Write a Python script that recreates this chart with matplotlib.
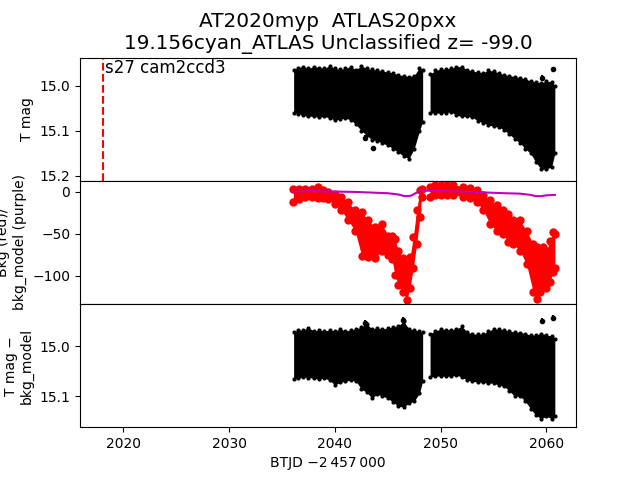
import numpy as np
import matplotlib
matplotlib.use('Agg')
import matplotlib.pyplot as plt

# top panel: T mag band (bright edge, faint edge), two data chunks
t1 = [2036.1, 2036.5, 2037.0, 2037.5, 2038.0, 2038.5, 2039.0, 2039.5, 2040.0, 2040.5,
      2041.0, 2041.5, 2042.0, 2042.5, 2043.0, 2043.5, 2044.0, 2044.5, 2045.0, 2045.5,
      2046.0, 2046.5, 2047.0, 2047.5, 2048.0, 2048.3]
t2 = [2049.0, 2049.5, 2050.0, 2050.5, 2051.0, 2051.5, 2052.0, 2052.5, 2053.0, 2053.5,
      2054.0, 2054.5, 2055.0, 2055.5, 2056.0, 2056.5, 2057.0, 2057.5, 2058.0, 2058.5,
      2059.0, 2059.5, 2060.0, 2060.5, 2060.8]

mag_hi1 = [14.965, 14.960, 14.958, 14.962, 14.958, 14.960, 14.962, 14.956, 14.962, 14.964,
           14.962, 14.958, 14.965, 14.956, 14.962, 14.964, 14.966, 14.968, 14.970, 14.972,
           14.976, 14.978, 14.980, 14.978, 14.960, 14.965]
mag_lo1 = [15.060, 15.062, 15.066, 15.068, 15.068, 15.070, 15.068, 15.072, 15.076, 15.074,
           15.072, 15.076, 15.086, 15.100, 15.110, 15.120, 15.122, 15.128, 15.132, 15.140,
           15.148, 15.156, 15.162, 15.140, 15.100, 15.080]
mag_hi2 = [14.975, 14.966, 14.964, 14.963, 14.962, 14.958, 14.958, 14.965, 14.968, 14.970,
           14.972, 14.966, 14.968, 14.972, 14.976, 14.978, 14.980, 14.983, 14.985, 14.990,
           14.992, 14.994, 14.990, 14.992, 15.000]
mag_lo2 = [15.060, 15.061, 15.061, 15.060, 15.058, 15.066, 15.068, 15.068, 15.070, 15.078,
           15.082, 15.087, 15.090, 15.092, 15.098, 15.108, 15.118, 15.127, 15.140, 15.150,
           15.170, 15.185, 15.185, 15.180, 15.150]
out_t = [2042.85, 2043.63, 2059.55, 2060.62]
out_mag = [15.116, 15.139, 14.983, 14.964]

# middle panel: background (red band) and bkg model (purple)
tb1 = [2036.07, 2036.6, 2037.17, 2037.8, 2038.43, 2038.9, 2039.38, 2040.0, 2040.6, 2041.27,
       2041.9, 2042.53, 2043.16, 2043.79, 2044.42, 2045.05, 2045.4, 2045.68, 2046.0, 2046.47,
       2046.78, 2047.1, 2047.41, 2047.73, 2048.04, 2048.2]
bkg_hi1 = [4, 3, 3, 4, 6, 2, 0, -2, -6, -12, -22, -24, -34, -42, -38, -52, -52, -56, -70, -79,
           -86, -78, -54, -22, 2, 4]
bkg_lo1 = [-12, -8, -6, -6, -7, -7, -8, -14, -22, -34, -46, -76, -77, -79, -70, -75, -80, -99,
           -111, -119, -129, -115, -91, -62, -30, -6]
tb2 = [2048.99, 2049.5, 2050.0, 2050.6, 2051.19, 2052.14, 2052.77, 2053.4, 2054.03, 2054.66,
       2055.29, 2055.92, 2056.39, 2056.87, 2057.49, 2058.12, 2058.75, 2059.07, 2059.38, 2059.7,
       2060.01, 2060.33, 2060.64, 2060.8]
bkg_hi2 = [6, 8, 8.5, 8.5, 8.5, 6.5, 4.5, 2.5, -3.6, -9.6, -15.7, -21.8, -26, -34, -34, -46,
           -62, -66, -70, -66, -70, -58, -48, -50]
bkg_lo2 = [-6, -4, -3.6, -3.6, -3.6, -5.6, -7.7, -11.7, -21.8, -38, -46, -50, -60, -62, -70,
           -86, -119, -127, -119, -111, -115, -107, -95, -91]
tm = [2036.07, 2038.0, 2040.0, 2042.0, 2044.0, 2045.0, 2046.0, 2046.6, 2047.2, 2047.7, 2048.1,
      2049.0, 2050.0, 2052.0, 2054.0, 2056.0, 2057.5, 2058.5, 2059.0, 2059.5, 2060.0, 2060.8]
bkg_model = [0.5, 1, 0.5, 0, -1, -1.5, -3, -5, -4.5, -1, 1.5, 1.5, 1, 0.5, -0.5, -1.5, -2,
             -3.5, -5, -5, -4, -3.5]

# bottom panel: T mag - bkg_model
sub_hi1 = [14.972, 14.968, 14.968, 14.963, 14.970, 14.968, 14.970, 14.968, 14.970, 14.966,
           14.970, 14.968, 14.966, 14.962, 14.955, 14.966, 14.964, 14.966, 14.964, 14.962,
           14.960, 14.950, 14.966, 14.968, 14.970, 14.972]
sub_lo1 = [15.066, 15.064, 15.062, 15.063, 15.064, 15.066, 15.064, 15.068, 15.078, 15.072,
           15.070, 15.068, 15.070, 15.086, 15.092, 15.104, 15.096, 15.100, 15.104, 15.112,
           15.120, 15.122, 15.114, 15.110, 15.094, 15.070]
sub_hi2 = [14.975, 14.970, 14.966, 14.967, 14.968, 14.966, 14.960, 14.972, 14.976, 14.976,
           14.976, 14.970, 14.966, 14.966, 14.968, 14.970, 14.972, 14.973, 14.975, 14.978,
           14.978, 14.975, 14.978, 14.980, 14.985]
sub_lo2 = [15.062, 15.060, 15.060, 15.060, 15.060, 15.058, 15.062, 15.068, 15.070, 15.072,
           15.072, 15.074, 15.074, 15.078, 15.080, 15.090, 15.100, 15.100, 15.110, 15.125,
           15.138, 15.145, 15.140, 15.145, 15.140]
sout_t = [2042.84, 2046.47, 2059.55, 2060.59]
sout_mag = [14.953, 14.947, 14.950, 14.943]

sector_start = 2018.1


def band(ax, t, hi, lo, color, ms):
    ax.fill_between(t, hi, lo, color=color, lw=0)
    ax.plot(t, hi, 'o', color=color, ms=ms, mew=0)
    ax.plot(t, lo, 'o', color=color, ms=ms, mew=0)


fig, axs = plt.subplots(3, 1, sharex=True, figsize=(6.4, 4.8), dpi=100)
fig.subplots_adjust(hspace=0)
ax1, ax2, ax3 = axs

band(ax1, t1, mag_hi1, mag_lo1, 'k', 3)
band(ax1, t2, mag_hi2, mag_lo2, 'k', 3)
ax1.errorbar(out_t, out_mag, yerr=0.006, fmt='o', color='k', ms=3)
ax1.axvline(sector_start, color='r', ls='--')
ax1.text(sector_start + 0.2, 14.940, 's27 cam2ccd3', fontsize=12, va='top')
ax1.set_ylim(15.211, 14.938)
ax1.set_yticks([15.0, 15.1, 15.2])
ax1.set_ylabel('T mag')
ax1.set_title('AT2020myp  ATLAS20pxx\n19.156cyan_ATLAS Unclassified z= -99.0', fontsize='x-large')

band(ax2, tb1, bkg_hi1, bkg_lo1, 'r', 6)
band(ax2, tb2, bkg_hi2, bkg_lo2, 'r', 6)
ax2.plot(tm, bkg_model, color='m', lw=1.5)
ax2.set_ylim(-133.5, 13.3)
ax2.set_yticks([0, -50, -100])
ax2.set_ylabel('Bkg (red)/\nbkg_model (purple)')

band(ax3, t1, sub_hi1, sub_lo1, 'k', 3)
band(ax3, t2, sub_hi2, sub_lo2, 'k', 3)
ax3.errorbar(sout_t, sout_mag, yerr=0.006, fmt='o', color='k', ms=3)
ax3.set_ylim(15.162, 14.916)
ax3.set_yticks([15.0, 15.1])
ax3.set_ylabel('T mag \u2212\nbkg_model')

for ax in (ax1, ax2):
    ax.tick_params(bottom=False)
ax3.set_xlim(2015.9, 2062.8)
ax3.set_xticks([2020, 2030, 2040, 2050, 2060])
ax3.set_xlabel('BTJD \u22122\u2009457\u2009000')

plt.savefig('out.png')
